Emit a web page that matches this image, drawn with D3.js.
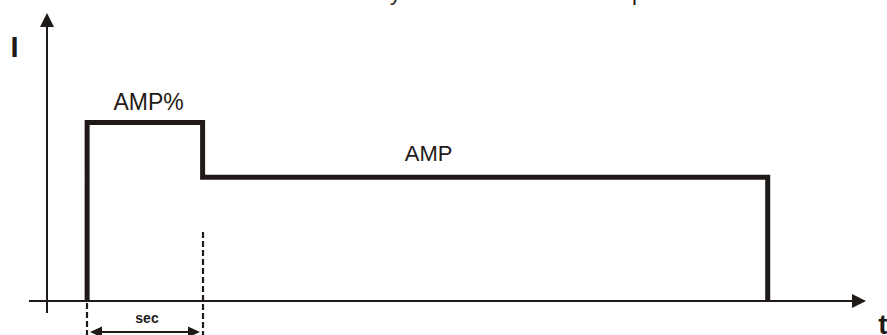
<!DOCTYPE html>
<html>
<head>
<meta charset="utf-8">
<script src="https://cdn.jsdelivr.net/npm/d3@7"></script>
<style>
  body { margin: 0; background: #fff; }
  svg { display: block; font-family: Arial, "Liberation Sans", sans-serif; }
</style>
</head>
<body>
<div id="chart"></div>
<script>
// hot start pulse: AMP% for "sec", then AMP until the arc stops
var segNames = ["AMP%", "AMP"];
var segStart = [4.9, 19];
var segEnd = [19, 88];
var segLevel = [62, 43];
var labelTime = [12.4, 46.6];
var axisLabels = ["I", "t"];
var spanLabel = "sec";
var title = "Hot start is set by AMP% for sec then drops to AMP";

var width = 887, height = 335;
var ink = "#1f1a17";

var x = d3.scaleLinear().domain([0, 100]).range([47, 866]);
var y = d3.scaleLinear().domain([0, 100]).range([301, 13]);

var svg = d3.select("#chart").append("svg")
  .attr("width", width)
  .attr("height", height);

svg.append("rect").attr("width", width).attr("height", height).attr("fill", "#fff");

// title sits mostly above the frame, only descenders show
svg.append("text")
  .attr("x", 231)
  .attr("y", 0)
  .style("font-size", "22px")
  .attr("fill", ink)
  .text(title);

//AXES
svg.append("line")
  .attr("x1", x(-2.2)).attr("x2", x(98.3))
  .attr("y1", y(0)).attr("y2", y(0))
  .attr("stroke", ink).attr("stroke-width", 2);
svg.append("path")
  .attr("d", "M" + x(100) + "," + y(0) + "l-14,-7l0,14z")
  .attr("fill", ink);

svg.append("line")
  .attr("x1", x(0)).attr("x2", x(0))
  .attr("y1", y(-4.2)).attr("y2", y(95.5))
  .attr("stroke", ink).attr("stroke-width", 2);
svg.append("path")
  .attr("d", "M" + x(0) + "," + y(100) + "l-7,14l14,0z")
  .attr("fill", ink);

svg.append("text")
  .attr("x", 14.5).attr("y", 57)
  .attr("text-anchor", "middle")
  .style("font-size", "29px").style("font-weight", "bold")
  .attr("fill", ink)
  .text(axisLabels[0]);

svg.append("text")
  .attr("x", 883).attr("y", 334)
  .attr("text-anchor", "middle")
  .style("font-size", "28px").style("font-weight", "bold")
  .attr("fill", ink)
  .text(axisLabels[1]);

//PULSE
var pts = [[segStart[0], 0]];
segNames.forEach(function(d, i) {
  pts.push([segStart[i], segLevel[i]]);
  pts.push([segEnd[i], segLevel[i]]);
});
pts.push([segEnd[segEnd.length - 1], 0]);

var line = d3.line()
  .x(function(d) { return x(d[0]); })
  .y(function(d) { return y(d[1]); });

svg.append("path")
  .attr("d", line(pts))
  .attr("fill", "none")
  .attr("stroke", ink)
  .attr("stroke-width", 5)
  .attr("stroke-linejoin", "miter");

svg.selectAll(".seg-label")
  .data(segNames)
  .enter().append("text")
  .attr("class", "seg-label")
  .attr("x", function(d, i) { return x(labelTime[i]); })
  .attr("y", function(d, i) { return y(segLevel[i]) - (i == 0 ? 12 : 16); })
  .attr("text-anchor", "middle")
  .style("font-size", function(d, i) { return i == 0 ? "23px" : "22px"; })
  .attr("fill", ink)
  .text(function(d) { return d; });

//SEC SPAN
var dx0 = Math.round(x(segStart[0])), dx1 = Math.round(x(segEnd[0]));
svg.append("line")
  .attr("x1", dx0).attr("x2", dx0)
  .attr("y1", y(0) + 2).attr("y2", height)
  .attr("stroke", ink).attr("stroke-width", 2.2)
  .attr("stroke-dasharray", "6,3");
svg.append("line")
  .attr("x1", dx1).attr("x2", dx1)
  .attr("y1", 232).attr("y2", height)
  .attr("stroke", ink).attr("stroke-width", 2.2)
  .attr("stroke-dasharray", "6,3");

var ax0 = dx0 + 3, ax1 = dx1 - 3, ay = 332;
svg.append("line")
  .attr("x1", ax0 + 8).attr("x2", ax1 - 8)
  .attr("y1", ay).attr("y2", ay)
  .attr("stroke", ink).attr("stroke-width", 2);
svg.append("path")
  .attr("d", "M" + ax0 + "," + ay + "l12,-5.5l0,11z")
  .attr("fill", ink);
svg.append("path")
  .attr("d", "M" + ax1 + "," + ay + "l-12,-5.5l0,11z")
  .attr("fill", ink);

svg.append("text")
  .attr("x", (dx0 + dx1) / 2 + 2)
  .attr("y", 323)
  .attr("text-anchor", "middle")
  .style("font-size", "14px").style("font-weight", "bold")
  .attr("fill", ink)
  .text(spanLabel);
</script>
</body>
</html>
